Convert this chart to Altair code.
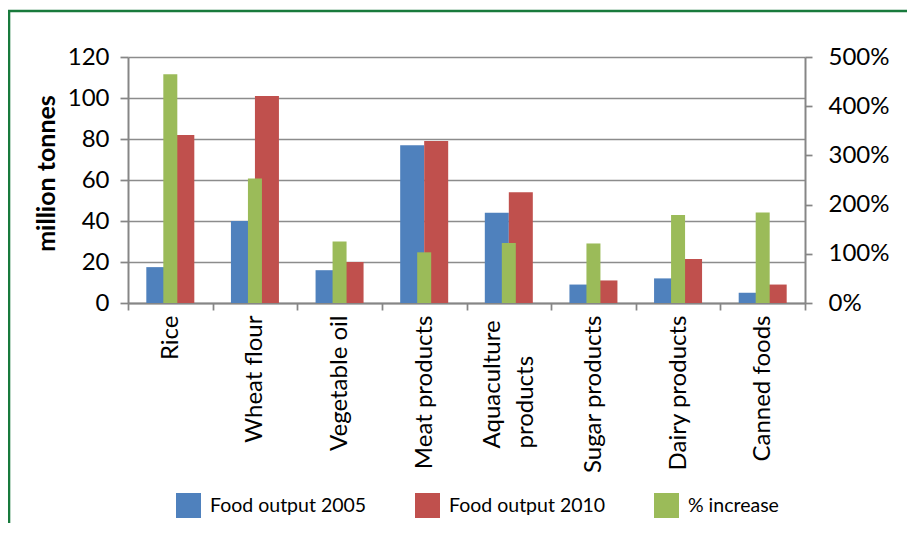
import altair as alt
import pandas as pd

categories = ["Rice", "Wheat flour", "Vegetable oil", "Meat products",
              "Aquaculture products", "Sugar products", "Dairy products", "Canned foods"]
output_2005 = [17.5, 40, 16, 77, 44, 9, 12, 5]
output_2010 = [82, 101, 20, 79, 54, 11, 21.5, 9]
pct_increase = [465, 253, 125, 103, 122, 121, 179, 184]
series_names = ["Food output 2005", "Food output 2010", "% increase"]
series_colors = ["#4F81BD", "#C0504D", "#9BBB59"]
left_ticks = [0, 20, 40, 60, 80, 100, 120]
right_ticks = [0, 100, 200, 300, 400, 500]

rows = []
for c, a, b in zip(categories, output_2005, output_2010):
    rows.append({"category": c, "series": series_names[0], "value": a})
    rows.append({"category": c, "series": series_names[1], "value": b})
prim = pd.DataFrame(rows)
sec = pd.DataFrame({"category": categories, "series": series_names[2], "pct": pct_increase})

W, H = 677, 246
FONT = "Lato"
GRAY = "#868686"
AQ_TEST = "datum.value == 'Aquaculture products'"

x_scale = alt.Scale(paddingInner=0, paddingOuter=0)
x_axis = alt.Axis(title=None, labelAngle=270, labelBaseline="middle",
                  labelAlign={"condition": {"test": AQ_TEST, "value": "left"}, "value": "right"},
                  labelPadding={"condition": {"test": AQ_TEST, "value": 138}, "value": 5},
                  labelOffset={"condition": {"test": AQ_TEST, "value": -16}, "value": 0},
                  labelFont=FONT, labelFontSize=24, labelColor="black",
                  tickSize=7, tickColor=GRAY, tickWidth=1.75, tickBand="extent",
                  domainColor=GRAY, domainWidth=2, grid=False, labelLimit=0,
                  labelExpr="datum.label == 'Aquaculture products' ? ['Aquaculture', 'products'] : datum.label",
                  labelLineHeight=33)

color_scale = alt.Scale(domain=series_names, range=series_colors)
legend = alt.Legend(title=None, orient="none", direction="horizontal", legendX=48, legendY=436,
                    symbolType="square", symbolSize=625, symbolStrokeWidth=0,
                    labelFont=FONT, labelFontSize=19.5, labelColor="black", labelOffset=9,
                    columnPadding=48, padding=0)

primary = alt.Chart(prim).mark_bar().encode(
    x=alt.X("category:N", sort=categories, scale=x_scale, axis=x_axis),
    xOffset=alt.XOffset("series:N", sort=series_names[:2],
                        scale=alt.Scale(domain=series_names[:2], paddingInner=0, paddingOuter=0.763)),
    y=alt.Y("value:Q", scale=alt.Scale(domain=[0, 120], nice=False),
            axis=alt.Axis(values=left_ticks, title="million tonnes", titleFont=FONT,
                          titleFontSize=25, titleFontWeight="bold", titleColor="black",
                          titleAngle=270, titleX=-74, titleY=116, titleBaseline="alphabetic",
                          titleAlign="center",
                          labelFont=FONT, labelFontSize=24, labelColor="black", labelPadding=11,
                          tickSize=8, tickColor=GRAY, tickWidth=1.75,
                          domainColor=GRAY, domainWidth=2,
                          grid=True, gridColor="#8c8c8c", gridWidth=1.5)),
    color=alt.Color("series:N", scale=color_scale, legend=legend),
)

green = alt.Chart(sec).mark_bar(size=14).encode(
    x=alt.X("category:N", sort=categories, scale=x_scale, axis=x_axis),
    y=alt.Y("pct:Q", scale=alt.Scale(domain=[0, 500], nice=False),
            axis=alt.Axis(orient="right", values=right_ticks, title=None,
                          labelExpr="datum.value + '%'",
                          labelFont=FONT, labelFontSize=24, labelColor="black", labelPadding=16,
                          tickSize=7, tickColor=GRAY, tickWidth=1.75,
                          domainColor=GRAY, domainWidth=2, grid=False)),
    color=alt.Color("series:N", scale=color_scale, legend=legend),
)

border = alt.Chart(pd.DataFrame({"k": [0]})).mark_rect(
    fill="white", fillOpacity=0, stroke="#187a3c", strokeWidth=2.6
).encode(
    x=alt.value(-119), x2=alt.value(W + 300), y=alt.value(-46), y2=alt.value(H + 400)
)

chart = alt.layer(border, primary, green).resolve_scale(y="independent").properties(
    width=W, height=H,
    padding={"left": 120, "top": 49, "right": 102, "bottom": 220},
    autosize="none",
    background="white",
).configure_view(stroke=None)

chart.save("out.html", embed_options={"renderer": "svg", "actions": False})
